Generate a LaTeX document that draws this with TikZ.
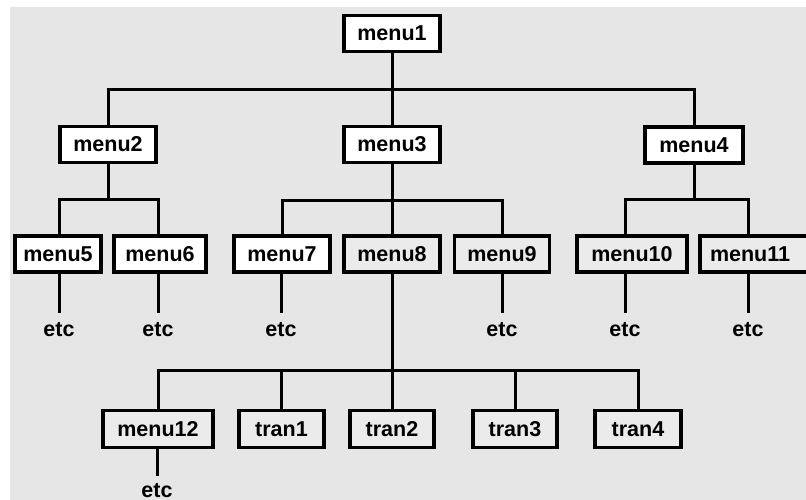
\documentclass[tikz,border=0pt]{standalone}
\usepackage{fontspec}
\setmainfont{Liberation Sans}
\definecolor{bggray}{HTML}{E6E6E6}
\definecolor{boxgray}{HTML}{EBEBEB}
\tikzset{
  box/.style={draw=black, line width=3.5pt, fill=white, inner sep=0pt,
    minimum height=36pt, font=\fontsize{21.5}{25}\selectfont\bfseries},
  graybox/.style={box, fill=boxgray},
  etcnode/.style={inner xsep=0pt, inner ysep=10pt, anchor=base,
    font=\fontsize{21.5}{25}\selectfont\bfseries},
  link/.style={line width=3pt, line cap=rect}
}
\begin{document}
\begin{tikzpicture}[x=1pt,y=-1pt]
\useasboundingbox (0,0) rectangle (806,500);
\fill[white] (0,0) rectangle (806,500);
\fill[bggray] (10,7) rectangle (806,500);
\begin{scope}
\clip (0,0) rectangle (806,500);
% level 0 and 1
\node[box, minimum width=96pt] (m1) at (392,33.5) {menu1};
\node[box, minimum width=96pt] (m2) at (108,144.5) {menu2};
\node[box, minimum width=96pt] (m3) at (392,144.5) {menu3};
\node[box, minimum width=98pt] (m4) at (694,145) {menu4};
% level 2
\node[box, minimum width=86pt] (m5) at (58,254) {menu5};
\node[box, minimum width=92pt] (m6) at (160,254) {menu6};
\node[box, minimum width=96pt] (m7) at (282,254) {menu7};
\node[graybox, minimum width=96pt] (m8) at (392,254) {menu8};
\node[graybox, minimum width=95pt] (m9) at (502,254) {menu9};
\node[graybox, minimum width=110pt] (m10) at (632,254) {menu10};
\node[graybox, minimum width=110pt, text width=100pt, align=left] (m11) at (755,254) {\hspace*{5pt}menu11};
% level 3
\node[graybox, minimum width=110pt, minimum height=37pt] (m12) at (158,429) {menu12};
\node[graybox, minimum width=85pt, minimum height=37pt] (t1) at (281.5,429) {tran1};
\node[graybox, minimum width=84pt, minimum height=37pt] (t2) at (392,429) {tran2};
\node[graybox, minimum width=84pt, minimum height=37pt] (t3) at (515,429) {tran3};
\node[graybox, minimum width=86pt, minimum height=37pt] (t4) at (638,429) {tran4};
% etc labels
\node[etcnode] (e5) at (59,336) {etc};
\node[etcnode] (e6) at (158,336) {etc};
\node[etcnode] (e7) at (281,336) {etc};
\node[etcnode] (e9) at (502,336) {etc};
\node[etcnode] (e10) at (625,336) {etc};
\node[etcnode] (e11) at (748,336) {etc};
\node[etcnode, inner ysep=8pt] (e12) at (157,497) {etc};
% connectors
\draw[link] (m1.south) -- (m3.north);
\draw[link] (m2.north) |- (m1.south |- 0,90) -| (m4.north);
\draw[link] (m2.south) -- ++(0,35.5) coordinate (j2);
\draw[link] (m5.north -| e5) |- (j2) -| (m6.north -| e6);
\draw[link] (m3.south) -- (m8.north);
\draw[link] (m7.north) |- (m8.north |- 0,200) -| (m9.north);
\draw[link] (m4.south) -- ++(0,35) coordinate (j4);
\draw[link] (m10.north -| e10) |- (j4) -| (m11.north -| e11);
\draw[link] (m8.south) -- (t2.north);
\draw[link] (m12.north) |- (t2.north |- 0,370) -| (t4.north);
\draw[link] (t1.north) -- (t1.north |- 0,370);
\draw[link] (t3.north) -- (t3.north |- 0,370);
\draw[link] (m5.south -| e5) -- (e5.north);
\draw[link] (m6.south -| e6) -- (e6.north);
\draw[link] (m7.south -| e7) -- (e7.north);
\draw[link] (m9.south) -- (e9.north);
\draw[link] (m10.south -| e10) -- (e10.north);
\draw[link] (m11.south -| e11) -- (e11.north);
\draw[link] (m12.south -| e12) -- (e12.north);
\end{scope}
\end{tikzpicture}
\end{document}
